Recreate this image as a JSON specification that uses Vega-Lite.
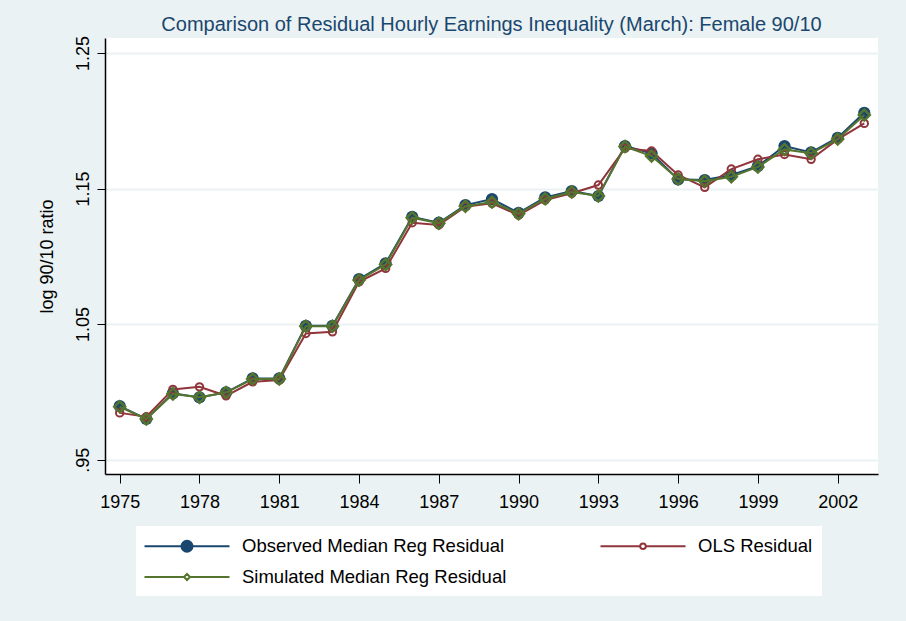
{
  "$schema": "https://vega.github.io/schema/vega-lite/v6.json",
  "autosize": "none",
  "width": 773,
  "height": 436,
  "padding": {"left": 105, "top": 38, "right": 28, "bottom": 147},
  "background": "#EAF2F3",
  "config": {
    "view": {"fill": "white", "stroke": null},
    "font": "Liberation Sans, Arial, sans-serif"
  },
  "title": {
    "text": "Comparison of Residual Hourly Earnings Inequality (March): Female 90/10",
    "fontSize": 20,
    "fontWeight": "normal",
    "color": "#1A476F",
    "anchor": "middle",
    "offset": 1
  },
  "data": {
    "values": [
      {"year": 1975, "obs": 0.9895, "ols": 0.9845, "sim": 0.9890},
      {"year": 1976, "obs": 0.9800, "ols": 0.9816, "sim": 0.9800},
      {"year": 1977, "obs": 0.9989, "ols": 1.0018, "sim": 0.9985},
      {"year": 1978, "obs": 0.9959, "ols": 1.0037, "sim": 0.9960},
      {"year": 1979, "obs": 0.9996, "ols": 0.9971, "sim": 0.9995},
      {"year": 1980, "obs": 1.0099, "ols": 1.0074, "sim": 1.0095},
      {"year": 1981, "obs": 1.0099, "ols": 1.0087, "sim": 1.0095},
      {"year": 1982, "obs": 1.0487, "ols": 1.0431, "sim": 1.0485},
      {"year": 1983, "obs": 1.0487, "ols": 1.0443, "sim": 1.0485},
      {"year": 1984, "obs": 1.0832, "ols": 1.0812, "sim": 1.0825},
      {"year": 1985, "obs": 1.0948, "ols": 1.0911, "sim": 1.0940},
      {"year": 1986, "obs": 1.1292, "ols": 1.1248, "sim": 1.1285},
      {"year": 1987, "obs": 1.1248, "ols": 1.1231, "sim": 1.1245},
      {"year": 1988, "obs": 1.1378, "ols": 1.1366, "sim": 1.1370},
      {"year": 1989, "obs": 1.1423, "ols": 1.1391, "sim": 1.1400},
      {"year": 1990, "obs": 1.1321, "ols": 1.1304, "sim": 1.1315},
      {"year": 1991, "obs": 1.1435, "ols": 1.1415, "sim": 1.1425},
      {"year": 1992, "obs": 1.1482, "ols": 1.1465, "sim": 1.1475},
      {"year": 1993, "obs": 1.1445, "ols": 1.1526, "sim": 1.1445},
      {"year": 1994, "obs": 1.1814, "ols": 1.1797, "sim": 1.1810},
      {"year": 1995, "obs": 1.1760, "ols": 1.1777, "sim": 1.1740},
      {"year": 1996, "obs": 1.1568, "ols": 1.1600, "sim": 1.1570},
      {"year": 1997, "obs": 1.1563, "ols": 1.1509, "sim": 1.1555},
      {"year": 1998, "obs": 1.1600, "ols": 1.1644, "sim": 1.1587},
      {"year": 1999, "obs": 1.1666, "ols": 1.1716, "sim": 1.1660},
      {"year": 2000, "obs": 1.1814, "ols": 1.1752, "sim": 1.1789},
      {"year": 2001, "obs": 1.1767, "ols": 1.1716, "sim": 1.1760},
      {"year": 2002, "obs": 1.1875, "ols": 1.1863, "sim": 1.1865},
      {"year": 2003, "obs": 1.2059, "ols": 1.1981, "sim": 1.2042}
    ]
  },
  "encoding": {
    "x": {
      "field": "year",
      "type": "quantitative",
      "scale": {"domain": [1974.447, 2003.516], "nice": false, "zero": false},
      "axis": {
        "title": null,
        "values": [1975, 1978, 1981, 1984, 1987, 1990, 1993, 1996, 1999, 2002],
        "format": "d",
        "grid": false,
        "labelFontSize": 18,
        "labelColor": "black",
        "labelPadding": 10,
        "tickSize": 9,
        "tickColor": "black",
        "domainColor": "black",
        "domainWidth": 1.5,
        "labelFlush": false,
        "labelOverlap": false
      }
    }
  },
  "layer": [
    {
      "mark": {"type": "line", "color": "#1A476F", "strokeWidth": 2},
      "encoding": {
        "y": {
          "field": "obs",
          "type": "quantitative",
          "scale": {"domain": [0.9394, 1.2611], "nice": false, "zero": false},
          "axis": {
            "title": "log 90/10 ratio",
            "titleFontSize": 18,
            "titleFontWeight": "normal",
            "titleColor": "black",
            "titlePadding": 18,
            "values": [0.95, 1.05, 1.15, 1.25],
            "labelExpr": "datum.value < 1 ? '.95' : format(datum.value, '.2f')",
            "labelAngle": -90,
            "labelAlign": "center",
            "labelBaseline": "bottom",
            "labelFontSize": 18,
            "labelColor": "black",
            "labelPadding": 5,
            "tickSize": 8,
            "tickColor": "black",
            "domainColor": "black",
            "domainWidth": 1.5,
            "gridColor": "#EAF2F3",
            "gridWidth": 2,
            "labelFlush": false,
            "labelOverlap": false
          }
        }
      }
    },
    {
      "mark": {"type": "point", "shape": "circle", "filled": true, "color": "#1A476F", "size": 150, "opacity": 1},
      "encoding": {"y": {"field": "obs", "type": "quantitative"}}
    },
    {
      "mark": {"type": "line", "color": "#90353B", "strokeWidth": 2},
      "encoding": {"y": {"field": "ols", "type": "quantitative"}}
    },
    {
      "mark": {"type": "point", "shape": "circle", "filled": false, "color": "#90353B", "size": 55, "strokeWidth": 2, "opacity": 1},
      "encoding": {"y": {"field": "ols", "type": "quantitative"}}
    },
    {
      "mark": {"type": "line", "color": "#55752F", "strokeWidth": 2},
      "encoding": {"y": {"field": "sim", "type": "quantitative"}}
    },
    {
      "mark": {"type": "point", "shape": "diamond", "filled": false, "color": "#55752F", "size": 120, "strokeWidth": 2.5, "opacity": 1},
      "encoding": {"y": {"field": "sim", "type": "quantitative"}}
    },
    {
      "transform": [{"fold": ["obs", "ols", "sim"], "as": ["series", "value"]}],
      "mark": {"type": "point", "opacity": 0},
      "encoding": {
        "y": {"field": "value", "type": "quantitative"},
        "shape": {
          "field": "series",
          "type": "nominal",
          "scale": {
            "domain": ["obs", "ols", "sim"],
            "range": [
              "M-4.25,0H4.25M0.55,0A0.55,0.55,0,1,1,-0.55,0A0.55,0.55,0,1,1,0.55,0Z",
              "M-4.25,0H-0.28M0.28,0H4.25M0.28,0A0.28,0.28,0,1,1,-0.28,0A0.28,0.28,0,1,1,0.28,0Z",
              "M-4.25,0H-0.3M0.3,0H4.25M0,-0.3L0.3,0L0,0.3L-0.3,0Z"
            ]
          },
          "legend": {
            "title": null,
            "orient": "none",
            "legendX": 31,
            "legendY": 488,
            "direction": "horizontal",
            "columns": 2,
            "columnPadding": 89,
            "rowPadding": 10,
            "fillColor": "white",
            "padding": 9,
            "symbolSize": 400,
            "symbolOffset": 31,
            "symbolStrokeWidth": 2,
            "symbolOpacity": 1,
            "labelOffset": 44,
            "labelFontSize": 18.5,
            "labelColor": "black",
            "labelLimit": 400,
            "labelExpr": "datum.label == 'obs' ? 'Observed Median Reg Residual' : datum.label == 'ols' ? 'OLS Residual' : 'Simulated Median Reg Residual'"
          }
        },
        "stroke": {
          "field": "series",
          "type": "nominal",
          "scale": {"domain": ["obs", "ols", "sim"], "range": ["#1A476F", "#90353B", "#55752F"]},
          "legend": {
            "title": null,
            "orient": "none",
            "legendX": 31,
            "legendY": 488,
            "direction": "horizontal",
            "columns": 2,
            "columnPadding": 89,
            "rowPadding": 10,
            "fillColor": "white",
            "padding": 9,
            "symbolSize": 400,
            "symbolOffset": 31,
            "symbolStrokeWidth": 2,
            "symbolOpacity": 1,
            "labelOffset": 44,
            "labelFontSize": 18.5,
            "labelColor": "black",
            "labelLimit": 400,
            "labelExpr": "datum.label == 'obs' ? 'Observed Median Reg Residual' : datum.label == 'ols' ? 'OLS Residual' : 'Simulated Median Reg Residual'"
          }
        },
        "fill": {
          "field": "series",
          "type": "nominal",
          "scale": {"domain": ["obs", "ols", "sim"], "range": ["#1A476F", "white", "white"]},
          "legend": {
            "title": null,
            "orient": "none",
            "legendX": 31,
            "legendY": 488,
            "direction": "horizontal",
            "columns": 2,
            "columnPadding": 89,
            "rowPadding": 10,
            "fillColor": "white",
            "padding": 9,
            "symbolSize": 400,
            "symbolOffset": 31,
            "symbolStrokeWidth": 2,
            "symbolOpacity": 1,
            "labelOffset": 44,
            "labelFontSize": 18.5,
            "labelColor": "black",
            "labelLimit": 400,
            "labelExpr": "datum.label == 'obs' ? 'Observed Median Reg Residual' : datum.label == 'ols' ? 'OLS Residual' : 'Simulated Median Reg Residual'"
          }
        }
      }
    }
  ]
}
